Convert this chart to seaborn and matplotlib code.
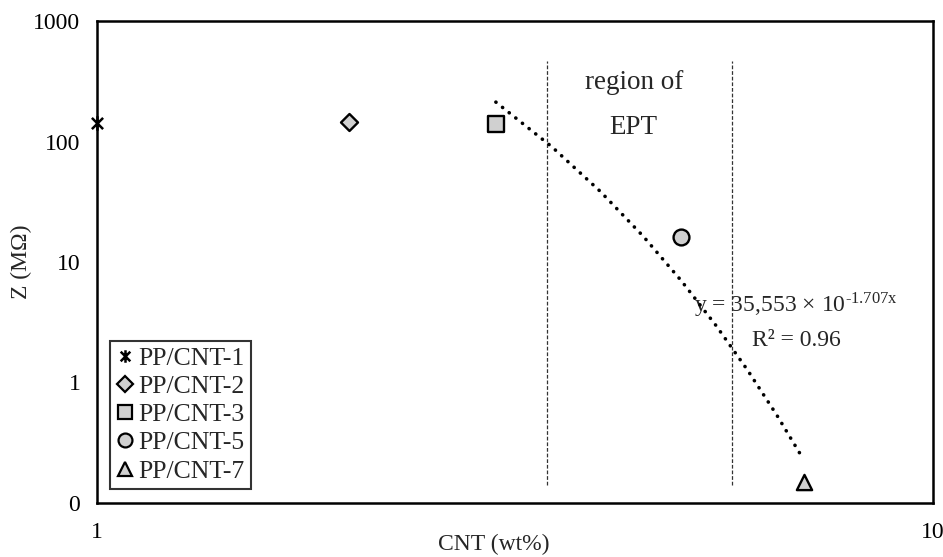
import numpy as np
import pandas as pd
import matplotlib
matplotlib.use("Agg")
import matplotlib.pyplot as plt
from matplotlib.path import Path
from matplotlib.lines import Line2D
from matplotlib.ticker import LogLocator, FuncFormatter, NullFormatter
import seaborn as sns

# ---- data ----
samples = ["PP/CNT-1", "PP/CNT-2", "PP/CNT-3", "PP/CNT-5", "PP/CNT-7"]
cnt_wt = [1, 2, 3, 5, 7]
z_mohm = [143, 145, 140, 16.2, 0.148]

# exponential trend fitted to the percolating samples
trend_a = 35553
trend_b = 1.707
trend_x = [3, 3.5, 4, 4.5, 5, 5.5, 6, 6.5, 7]

# boundaries of the electrical percolation threshold region
ept_bounds = [3.45, 5.75]
ept_ylim = [470, 0.14]

sns.set_style("white")
plt.rcParams["font.family"] = ["Liberation Serif", "DejaVu Serif"]
plt.rcParams["mathtext.fontset"] = "stix"

fig = plt.figure(figsize=(9.43, 5.57), dpi=100)
ax = fig.add_axes([97 / 943, 1 - 503 / 557, (933 - 97) / 943, (503 - 21) / 557])

star = Path([(-1, -1), (1, 1), (-1, 1), (1, -1), (0, -1.3), (0, 1.3)],
            [Path.MOVETO, Path.LINETO, Path.MOVETO, Path.LINETO, Path.MOVETO, Path.LINETO])
markers = [star, "D", "s", "o", "^"]
sizes = [110, 75, 130, 130, 120]
fill = "#D0D0D0"

df = pd.DataFrame({"sample": samples, "cnt": cnt_wt, "z": z_mohm})

handles = []
for i, row in df.iterrows():
    m = markers[i]
    if i == 0:
        sns.scatterplot(x=[row.cnt], y=[row.z], ax=ax, marker=m, s=sizes[i],
                        color="black", edgecolor="black", linewidth=1.8, zorder=5,
                        clip_on=False)
        h = Line2D([], [], marker=m, linestyle="none", color="black",
                   markeredgecolor="black", markersize=9, markeredgewidth=1.8)
    else:
        sns.scatterplot(x=[row.cnt], y=[row.z], ax=ax, marker=m, s=sizes[i],
                        color=fill, edgecolor="black", linewidth=1.7, zorder=5)
        h = Line2D([], [], marker=m, linestyle="none", markerfacecolor=fill,
                   markeredgecolor="black", markersize=10 if m != "D" else 8.5,
                   markeredgewidth=1.6)
    handles.append(h)

tx = np.array(trend_x, dtype=float)
tdf = pd.DataFrame({"x": tx, "y": trend_a * np.exp(-trend_b * tx)})
sns.lineplot(data=tdf, x="x", y="y", ax=ax, color="black", linestyle=(0, (0.05, 2.3)),
             linewidth=2.6, dash_capstyle="round", zorder=4)

ax.vlines(ept_bounds, ept_ylim[1], ept_ylim[0], colors="#333333",
          linestyles=(0, (3, 1.5)), linewidth=0.9, zorder=3)

ax.set_xscale("log")
ax.set_yscale("log")
ax.set_xlim(1, 10)
ax.set_ylim(0.1, 1000)

ax.xaxis.set_major_locator(LogLocator(base=10))
ax.xaxis.set_minor_locator(LogLocator(base=10, subs=np.arange(2, 10)))
ax.yaxis.set_major_locator(LogLocator(base=10))
ax.yaxis.set_minor_locator(LogLocator(base=10, subs=np.arange(2, 10)))
fmt = FuncFormatter(lambda v, p: f"{v:.0f}")
ax.xaxis.set_major_formatter(fmt)
ax.yaxis.set_major_formatter(fmt)
ax.xaxis.set_minor_formatter(NullFormatter())
ax.yaxis.set_minor_formatter(NullFormatter())

ax.tick_params(axis="both", which="major", direction="out", length=7, width=1.5,
               labelsize=17, color="black", labelcolor="black")
ax.tick_params(axis="y", which="minor", direction="out", length=5, width=1.3, color="black")
ax.tick_params(axis="x", which="minor", direction="out", length=6, width=1.3, color="black")
ax.tick_params(axis="x", which="major", pad=7)
ax.tick_params(axis="y", which="major", pad=5)

for s in ax.spines.values():
    s.set_color("black")
    s.set_linewidth(1.8)

ax.set_xlabel("CNT (wt%)", fontsize=17)
ax.xaxis.set_label_coords(0.475, -0.065)
ax.set_ylabel("Z (MΩ)", fontsize=17)
ax.yaxis.label.set_va("center")
ax.yaxis.set_label_coords(-0.09, 0.5)

ax.text(0.642, 0.873, "region of", transform=ax.transAxes, ha="center", va="center",
        fontsize=19.5)
ax.text(0.641, 0.780, "EPT", transform=ax.transAxes, ha="center", va="center",
        fontsize=19.5)
ax.text(0.836, 0.41, "y = 35,553 × 10$^{\\mathregular{\u2010}\\mathregular{1.707x}}$",
        transform=ax.transAxes, ha="center", va="center", fontsize=17)
ax.text(0.836, 0.338, "R² = 0.96", transform=ax.transAxes, ha="center", va="center",
        fontsize=17)

leg = ax.legend(handles, samples, loc="lower left", bbox_to_anchor=(0.0155, 0.029),
                frameon=True, fontsize=18.5, handlelength=0.7, handletextpad=0.15,
                borderpad=0.25, labelspacing=0.2, fancybox=False, borderaxespad=0)
leg.get_frame().set_edgecolor("black")
leg.get_frame().set_linewidth(1.5)

fig.savefig("out.png", dpi=100)
